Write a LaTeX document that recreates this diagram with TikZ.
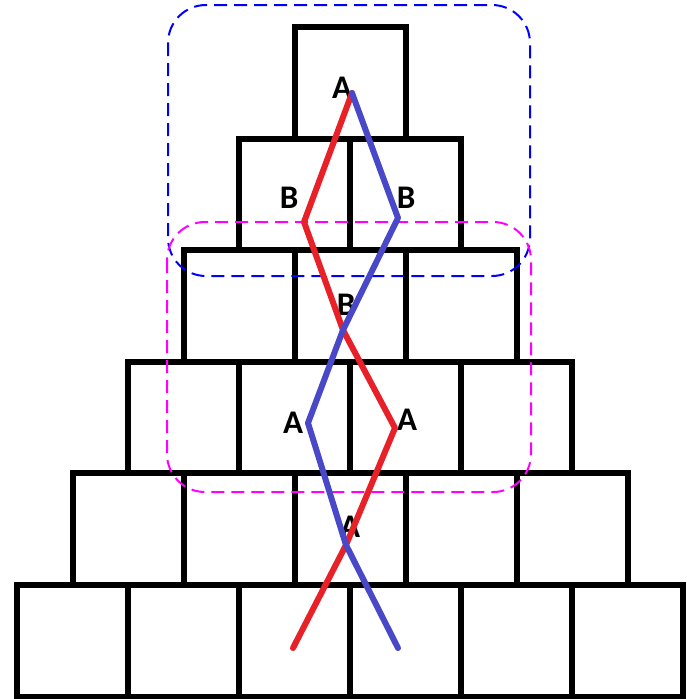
\documentclass[tikz,border=0pt]{standalone}
\usepackage{fontspec}
\setsansfont{Carlito}
\usepackage{xcolor}
\usepackage{tikz}
\definecolor{pathred}{RGB}{232,32,40}
\definecolor{pathblue}{RGB}{72,72,200}
\definecolor{zoneblue}{RGB}{0,0,255}
\definecolor{zonemag}{RGB}{255,0,255}

\begin{document}
\begin{tikzpicture}[x=1pt, y=-1pt,
  cell/.style={draw=black, line width=6pt},
  lab/.style={font=\sffamily\bfseries\fontsize{33}{33}\selectfont, inner sep=0pt},
  zone/.style={dash pattern=on 13pt off 7pt, line width=2pt, rounded corners=38pt},
  route/.style={line width=6pt, line cap=round, line join=round}]
\useasboundingbox (0,0) rectangle (687,699);
% ---- boxes ----
\foreach \r in {1,...,6}
  \foreach \c in {1,...,\r}
    \draw[cell] ({350-\r*55.5+(\c-1)*111},{27+(\r-1)*111.6}) rectangle ++(111,111.6);
% ---- zones ----
\draw[zone, zoneblue] (168,5) rectangle (530,276);
\draw[zone, zonemag] (167,222) rectangle (531,492);
% ---- labels ----
\node[lab] (atop) at (342,88) {A};
\node[lab] (bleft) at (289,198) {B};
\node[lab] (bright) at (406,198) {B};
\node[lab] (bmid) at (346,305) {B};
\node[lab] (aleft) at (293,423) {A};
\node[lab] (aright) at (407,420) {A};
\node[lab] (alow) at (350,527) {A};
% ---- routes ----
\coordinate (ptop) at (352,93);
\coordinate (pbl) at (304,222);
\coordinate (pbr) at (398,218);
\coordinate (pmid) at (343,330);
\coordinate (pal) at (308,423);
\coordinate (par) at (395,428);
\coordinate (plow) at (346,545);
\coordinate (pendl) at (293,648);
\coordinate (pendr) at (398,648);
\draw[route, pathred] (ptop) -- (pbl) -- (pmid) -- (par) -- (plow) -- (pendl);
\draw[route, pathblue] (ptop) -- (pbr) -- (pmid) -- (pal) -- (plow) -- (pendr);
\end{tikzpicture}
\end{document}
